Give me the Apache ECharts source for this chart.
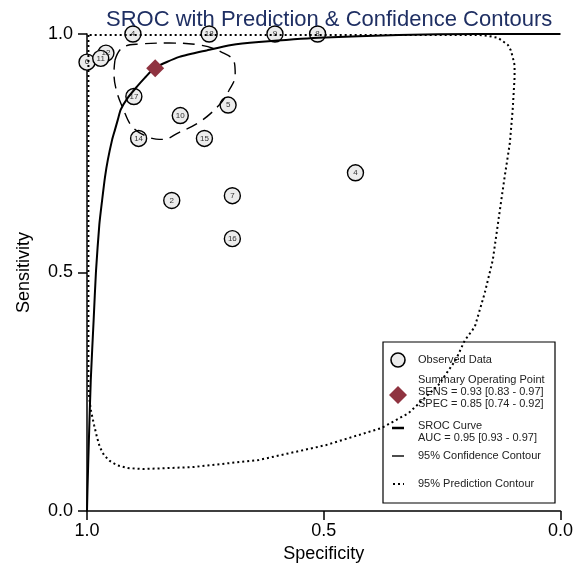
<!DOCTYPE html>
<html>
<head>
<meta charset="utf-8">
<script src="https://cdn.jsdelivr.net/npm/echarts/dist/echarts.min.js"></script>
<style>
  html, body { margin: 0; padding: 0; background: #fff; }
  #chart { width: 576px; height: 571px; }
</style>
</head>
<body>
<div id="chart"></div>
<script>
// study points (specificity, sensitivity)
const studyLabels = ['4', '18', '9', '8', '6', '12', '11', '17', '5', '10', '14', '15', '4', '2', '7', '16'];
const studySpec = [0.903, 0.742, 0.603, 0.513, 1.0, 0.960, 0.971, 0.901, 0.702, 0.803, 0.891, 0.752, 0.433, 0.821, 0.693, 0.693];
const studySens = [1.0, 1.0, 1.0, 1.0, 0.941, 0.960, 0.949, 0.869, 0.851, 0.829, 0.781, 0.781, 0.709, 0.651, 0.661, 0.571];

// summary operating point
const summarySpec = 0.856;
const summarySens = 0.928;

// SROC curve
const srocSpec = [1.0, 0.999, 0.996, 0.992, 0.986, 0.981, 0.974, 0.968, 0.962, 0.956, 0.947, 0.941, 0.935, 0.929, 0.914, 0.895, 0.878, 0.857, 0.805, 0.746, 0.695, 0.637, 0.511, 0.342, 0.174, 0.0];
const srocSens = [0.0, 0.044, 0.149, 0.275, 0.400, 0.503, 0.600, 0.652, 0.700, 0.736, 0.778, 0.799, 0.820, 0.841, 0.866, 0.889, 0.908, 0.929, 0.952, 0.966, 0.977, 0.983, 0.992, 0.998, 1.0, 1.0];

// 95% confidence contour
const confSpec = [0.941, 0.926, 0.889, 0.826, 0.763, 0.716, 0.689, 0.687, 0.700, 0.721, 0.763, 0.805, 0.840, 0.868, 0.903, 0.924, 0.939, 0.943, 0.941];
const confSens = [0.945, 0.971, 0.979, 0.981, 0.977, 0.962, 0.941, 0.914, 0.882, 0.851, 0.815, 0.794, 0.779, 0.783, 0.804, 0.844, 0.886, 0.920, 0.945];

// 95% prediction contour
const predSpec = [0.997, 0.997, 0.997, 0.996, 0.992, 0.985, 0.979, 0.973, 0.964, 0.952, 0.937, 0.914, 0.882, 0.777, 0.637, 0.496, 0.378, 0.321, 0.258, 0.221, 0.202, 0.181, 0.160, 0.143, 0.128, 0.118, 0.107, 0.101, 0.097, 0.097, 0.101, 0.105, 0.111, 0.122, 0.132, 0.153, 0.174, 0.5, 0.997];
const predSens = [0.998, 0.651, 0.27, 0.243, 0.212, 0.180, 0.155, 0.134, 0.117, 0.105, 0.096, 0.090, 0.088, 0.092, 0.107, 0.138, 0.174, 0.205, 0.264, 0.317, 0.358, 0.386, 0.457, 0.526, 0.631, 0.700, 0.771, 0.841, 0.908, 0.935, 0.952, 0.966, 0.977, 0.985, 0.992, 0.996, 0.998, 0.998, 0.998];

const axisTicks = [0, 0.5, 1];

const FONT = 'Liberation Sans, Arial, sans-serif';
const pairs = (xs, ys) => xs.map((x, i) => [x, ys[i]]);

const chart = echarts.init(document.getElementById('chart'));

const axisBase = {
  type: 'value',
  min: 0,
  max: 1,
  interval: 0.5,
  splitLine: { show: false },
  axisLine: { show: true, onZero: false, lineStyle: { color: '#000', width: 1.5 } },
  axisTick: { show: true, length: 9, lineStyle: { color: '#000', width: 1.5 } },
  axisLabel: {
    color: '#000',
    fontSize: 18,
    fontFamily: FONT,
    formatter: v => axisTicks.indexOf(v) >= 0 ? v.toFixed(1) : ''
  },
  nameLocation: 'middle',
  nameTextStyle: { color: '#000', fontSize: 18, fontFamily: FONT }
};

const lx = 383, ly = 342;
const legendText = (x, y, txt) => ({
  type: 'text', x: x, y: y,
  style: { text: txt, fill: '#222', font: '11px ' + FONT, lineHeight: 12, verticalAlign: 'middle' }
});

const option = {
  animation: false,
  backgroundColor: '#fff',
  title: {
    text: 'SROC with Prediction & Confidence Contours',
    left: 101,
    top: 4,
    textStyle: { color: '#1f2f63', fontSize: 22, fontWeight: 'normal', fontFamily: FONT }
  },
  grid: { left: 87, right: 13, top: 34, bottom: 60 },
  xAxis: Object.assign({}, axisBase, {
    inverse: true,
    name: 'Specificity',
    nameGap: 33,
    axisLabel: Object.assign({}, axisBase.axisLabel, { margin: 11 })
  }),
  yAxis: Object.assign({}, axisBase, {
    name: 'Sensitivity',
    nameGap: 54,
    axisLabel: Object.assign({}, axisBase.axisLabel, { margin: 14 })
  }),
  series: [
    {
      name: 'Observed Data',
      type: 'scatter',
      z: 1,
      symbol: 'circle',
      symbolSize: 16,
      itemStyle: { color: '#ececec', borderColor: '#000', borderWidth: 1.4, opacity: 1 },
      label: {
        show: true,
        position: 'inside',
        formatter: p => studyLabels[p.dataIndex],
        fontSize: 8,
        color: '#333',
        fontFamily: FONT
      },
      data: pairs(studySpec, studySens)
    },
    {
      name: '95% Prediction Contour',
      type: 'line',
      z: 2,
      showSymbol: false,
      lineStyle: { color: '#000', width: 2, type: [2, 3] },
      data: pairs(predSpec, predSens)
    },
    {
      name: '95% Confidence Contour',
      type: 'line',
      z: 2,
      showSymbol: false,
      smooth: 0.4,
      lineStyle: { color: '#000', width: 1.4, type: [12, 7] },
      data: pairs(confSpec, confSens)
    },
    {
      name: 'SROC Curve',
      type: 'line',
      z: 3,
      showSymbol: false,
      smooth: 0.2,
      lineStyle: { color: '#000', width: 2 },
      data: pairs(srocSpec, srocSens)
    },
    {
      name: 'Summary Operating Point',
      type: 'scatter',
      z: 4,
      symbol: 'diamond',
      symbolSize: [18, 18],
      itemStyle: { color: '#8f3340', opacity: 1 },
      data: [[summarySpec, summarySens]]
    }
  ],
  graphic: [
    {
      type: 'group',
      z: 100,
      children: [
        { type: 'rect', shape: { x: lx, y: ly, width: 172, height: 161 }, style: { fill: '#fff', stroke: '#000', lineWidth: 1.2 } },
        { type: 'circle', shape: { cx: lx + 15, cy: ly + 18, r: 7 }, style: { fill: '#ececec', stroke: '#000', lineWidth: 1.6 } },
        legendText(lx + 35, ly + 18, 'Observed Data'),
        { type: 'polygon', shape: { points: [[lx + 15, ly + 44], [lx + 24, ly + 53], [lx + 15, ly + 62], [lx + 6, ly + 53]] }, style: { fill: '#8f3340' } },
        legendText(lx + 35, ly + 50, 'Summary Operating Point\nSENS = 0.93 [0.83 - 0.97]\nSPEC = 0.85 [0.74 - 0.92]'),
        { type: 'line', shape: { x1: lx + 9, y1: ly + 86, x2: lx + 21, y2: ly + 86 }, style: { stroke: '#000', lineWidth: 2.5 } },
        legendText(lx + 35, ly + 90, 'SROC Curve\nAUC = 0.95 [0.93 - 0.97]'),
        { type: 'line', shape: { x1: lx + 9, y1: ly + 114, x2: lx + 21, y2: ly + 114 }, style: { stroke: '#000', lineWidth: 1.4 } },
        legendText(lx + 35, ly + 114, '95% Confidence Contour'),
        { type: 'line', shape: { x1: lx + 10, y1: ly + 142, x2: lx + 21, y2: ly + 142 }, style: { stroke: '#000', lineWidth: 2, lineDash: [2, 3] } },
        legendText(lx + 35, ly + 142, '95% Prediction Contour')
      ]
    }
  ]
};

chart.setOption(option);
</script>
</body>
</html>
